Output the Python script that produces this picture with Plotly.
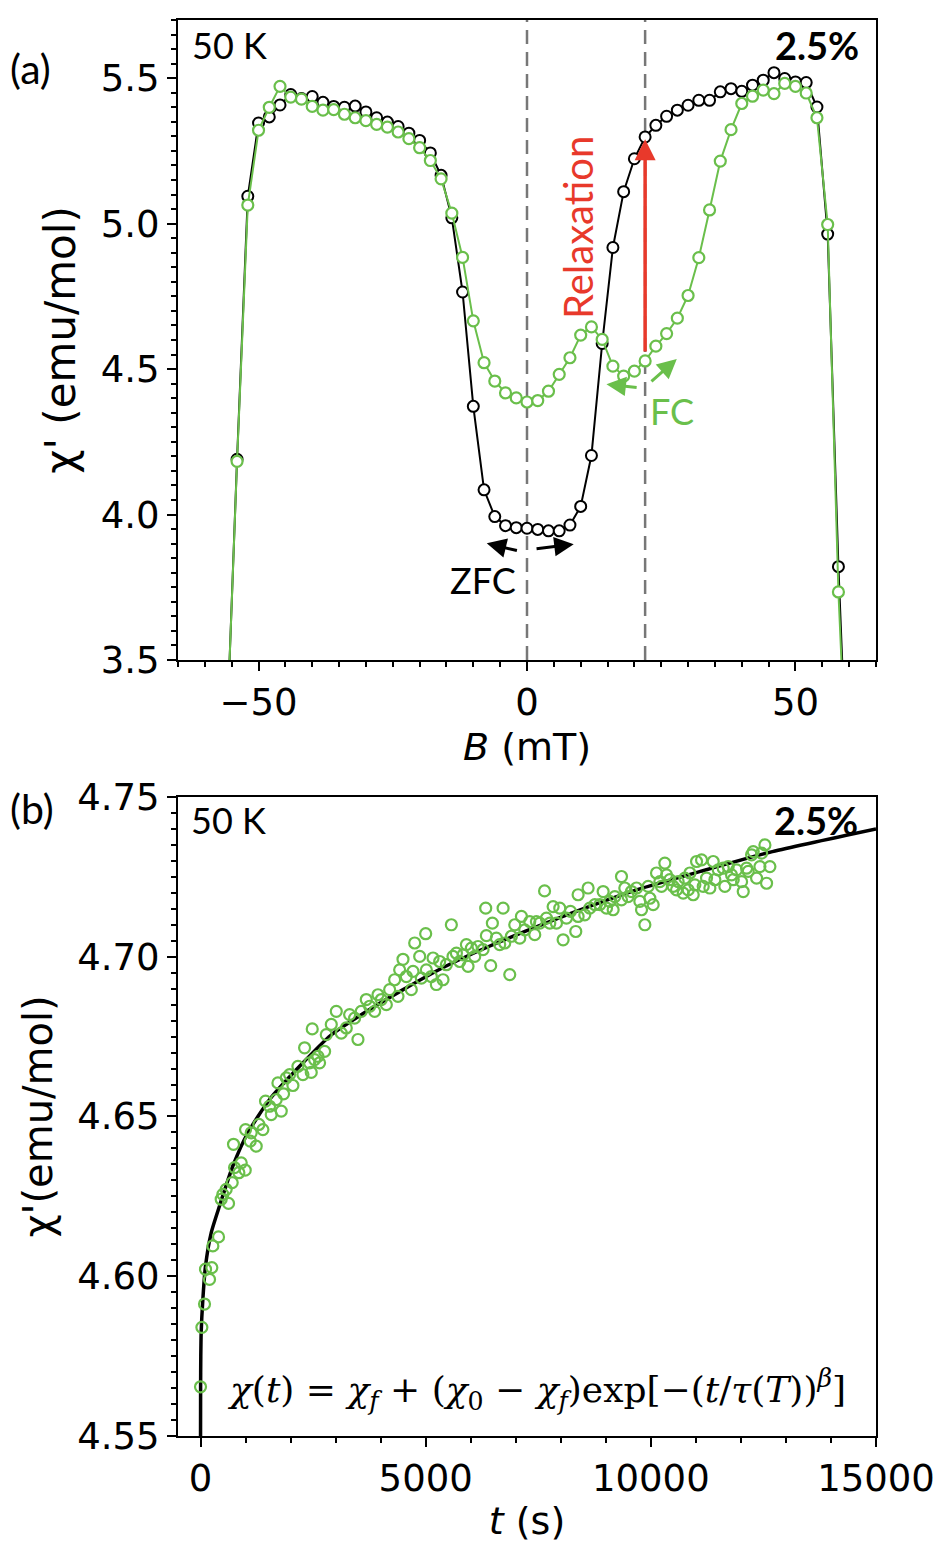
import plotly.graph_objects as go

# ---- panel (a): chi' vs B ----
B = [-56, -54, -52, -50, -48, -46, -44, -42, -40, -38, -36, -34, -32, -30, -28, -26,
     -24, -22, -20, -18, -16, -14, -12, -10, -8, -6, -4, -2, 0, 2, 4, 6, 8, 10, 12,
     14, 16, 18, 20, 22, 24, 26, 28, 30, 32, 34, 36, 38, 40, 42, 44, 46, 48, 50, 52,
     54, 56, 58, 60]
chi_zfc = [3.20, 4.19, 5.094, 5.346, 5.367, 5.408, 5.444, 5.430, 5.437, 5.417, 5.403,
           5.400, 5.404, 5.384, 5.364, 5.349, 5.334, 5.311, 5.286, 5.243, 5.166, 5.020,
           4.765, 4.372, 4.085, 3.993, 3.962, 3.955, 3.953, 3.949, 3.944, 3.944, 3.964,
           4.028, 4.203, 4.588, 4.918, 5.110, 5.223, 5.298, 5.338, 5.369, 5.390, 5.407,
           5.424, 5.424, 5.453, 5.464, 5.455, 5.476, 5.493, 5.519, 5.499, 5.487, 5.485,
           5.401, 4.964, 3.821, 2.90]
chi_fc = [3.20, 4.183, 5.064, 5.321, 5.400, 5.472, 5.435, 5.428, 5.403, 5.390, 5.392,
          5.376, 5.364, 5.354, 5.341, 5.332, 5.315, 5.292, 5.261, 5.217, 5.154, 5.036,
          4.884, 4.666, 4.522, 4.459, 4.418, 4.401, 4.387, 4.392, 4.424, 4.482, 4.539,
          4.617, 4.645, 4.602, 4.510, 4.476, 4.493, 4.528, 4.579, 4.622, 4.675, 4.753,
          4.883, 5.047, 5.215, 5.323, 5.413, 5.438, 5.459, 5.447, 5.482, 5.472, 5.449,
          5.364, 4.997, 3.734, 2.90]
B_lines = [0, 22]

# ---- panel (b): relaxation chi'(t) ----
t_s = [0, 30, 89, 111, 200, 251, 274, 400, 459, 496, 570, 622, 704, 733, 756, 852, 904,
       993, 1000, 1104, 1126, 1237, 1296, 1385, 1444, 1533, 1570, 1681, 1719, 1793, 1844,
       1904, 1978, 2052, 2163, 2274, 2311, 2422, 2459, 2481, 2533, 2607, 2644, 2756, 2793,
       2904, 3015, 3126, 3237, 3311, 3422, 3496, 3570, 3681, 3756, 3867, 3941, 4015, 4126,
       4200, 4311, 4385, 4422, 4496, 4570, 4681, 4719, 4756, 4867, 4904, 5000, 5015, 5126,
       5163, 5237, 5311, 5385, 5459, 5570, 5607, 5682, 5756, 5830, 5904, 5941, 6015, 6089,
       6163, 6274, 6333, 6348, 6444, 6481, 6570, 6644, 6719, 6756, 6867, 6904, 6978, 7089,
       7126, 7200, 7311, 7422, 7459, 7533, 7640, 7682, 7756, 7830, 7904, 7978, 8052, 8126,
       8215, 8333, 8385, 8385, 8533, 8607, 8644, 8756, 8867, 8941, 9015, 9089, 9163, 9200,
       9348, 9348, 9422, 9496, 9570, 9682, 9756, 9793, 9867, 9941, 9978, 10052, 10126,
       10200, 10237, 10311, 10348, 10422, 10496, 10570, 10607, 10719, 10756, 10830, 10867,
       10941, 10978, 11015, 11126, 11163, 11237, 11311, 11385, 11422, 11496, 11607, 11644,
       11718, 11793, 11830, 11904, 12015, 12052, 12126, 12163, 12237, 12274, 12348, 12422,
       12459, 12533, 12570, 12644]
chi_t = [4.5654, 4.5840, 4.5913, 4.6022, 4.5990, 4.6027, 4.6095, 4.6123, 4.6241, 4.6256,
         4.6272, 4.6228, 4.6293, 4.6413, 4.6340, 4.6324, 4.6355, 4.6332, 4.6459, 4.6423,
         4.6449, 4.6407, 4.6475, 4.6459, 4.6548, 4.6532, 4.6506, 4.6553, 4.6605, 4.6517,
         4.6571, 4.6621, 4.6631, 4.6597, 4.6657, 4.6631, 4.6715, 4.6668, 4.6638, 4.6774,
         4.6678, 4.6688, 4.6668, 4.6704, 4.6756, 4.6788, 4.6829, 4.6761, 4.6777, 4.6819,
         4.6808, 4.6741, 4.6829, 4.6866, 4.6845, 4.6829, 4.6881, 4.6866, 4.6850, 4.6897,
         4.6928, 4.6876, 4.6959, 4.6992, 4.6938, 4.6897, 4.6954, 4.7043, 4.7001, 4.6933,
         4.7072, 4.6959, 4.6938, 4.6996, 4.6913, 4.6985, 4.6928, 4.6975, 4.7100, 4.7001,
         4.7011, 4.6985, 4.7006, 4.7038, 4.6970, 4.7027, 4.7001, 4.7032, 4.7022, 4.7152,
         4.7066, 4.6972, 4.7105, 4.7058, 4.7038, 4.7152, 4.7043, 4.6944, 4.7064, 4.7100,
         4.7058, 4.7126, 4.7084, 4.7110, 4.7069, 4.7110, 4.7105, 4.7206, 4.7121, 4.7105,
         4.7157, 4.7105, 4.7152, 4.7053, 4.7121, 4.7142, 4.7079, 4.7126, 4.7194, 4.7131,
         4.7215, 4.7152, 4.7163, 4.7163, 4.7204, 4.7152, 4.7173, 4.7147, 4.7188, 4.7251,
         4.7178, 4.7215, 4.7188, 4.7204, 4.7215, 4.7173, 4.7147, 4.7100, 4.7220, 4.7183,
         4.7163, 4.7262, 4.7235, 4.7220, 4.7293, 4.7256, 4.7241, 4.7220, 4.7209, 4.7235,
         4.7199, 4.7246, 4.7209, 4.7262, 4.7194, 4.7225, 4.7298, 4.7303, 4.7220, 4.7246,
         4.7215, 4.7298, 4.7241, 4.7272, 4.7277, 4.7220, 4.7282, 4.7256, 4.7241, 4.7272,
         4.7235, 4.7204, 4.7277, 4.7267, 4.7319, 4.7329, 4.7246, 4.7282, 4.7324, 4.7350,
         4.7230, 4.7282]

# fitted curve
fit_t = [0, 2, 6, 15, 52, 111, 237, 422, 718, 1052, 1533, 2200, 2900, 3700, 4500, 5400,
         6400, 7400, 8400, 9700, 11100, 12700, 15000]
fit_chi = [4.546, 4.565, 4.575, 4.5825, 4.5928, 4.6032, 4.6136, 4.6220, 4.6345, 4.6449,
           4.6553, 4.6657, 4.6755, 4.6830, 4.6897, 4.6967, 4.7032, 4.7090, 4.7145,
           4.7210, 4.7267, 4.7329, 4.7400]

GREEN = "#6abf4b"
RED = "#e8392b"
TICKFONT = dict(family="DejaVu Sans", size=37, color="black")
LABFONT = "Lato"

fig = go.Figure()

fig.add_trace(go.Scatter(
    x=B, y=chi_zfc, mode="lines+markers", xaxis="x", yaxis="y",
    line=dict(color="black", width=2),
    marker=dict(symbol="circle", size=11, color="white", line=dict(color="black", width=2)),
    showlegend=False, hoverinfo="skip"))
fig.add_trace(go.Scatter(
    x=B, y=chi_fc, mode="lines+markers", xaxis="x", yaxis="y",
    line=dict(color=GREEN, width=2),
    marker=dict(symbol="circle", size=11, color="white", line=dict(color=GREEN, width=2.2)),
    showlegend=False, hoverinfo="skip"))

fig.add_trace(go.Scatter(
    x=fit_t, y=fit_chi, mode="lines", xaxis="x2", yaxis="y2",
    line=dict(color="black", width=3.5, shape="spline", smoothing=0.6),
    showlegend=False, hoverinfo="skip"))
fig.add_trace(go.Scatter(
    x=t_s, y=chi_t, mode="markers", xaxis="x2", yaxis="y2",
    marker=dict(symbol="circle-open", size=11, color=GREEN, line=dict(color=GREEN, width=2.2)),
    showlegend=False, hoverinfo="skip"))

shapes = []
for b in B_lines:
    shapes.append(dict(type="line", xref="x", yref="y domain", x0=b, x1=b, y0=0, y1=1,
                       line=dict(color="#777777", width=2.5, dash="14px,8px"), layer="below"))

ann = []
# panel labels
ann.append(dict(text="(a)", xref="paper", yref="paper", x=-0.243, y=0.9845,
                showarrow=False, font=dict(family=LABFONT, size=41, color="black")))
ann.append(dict(text="(b)", xref="paper", yref="paper", x=-0.243, y=0.4435,
                showarrow=False, font=dict(family=LABFONT, size=41, color="black")))
# corner labels
for xr, yr, xl, xr_, yv in [("x", "y", -62.8, 62.2, 5.614), ("x2", "y2", -260, 14650, 4.7428)]:
    ann.append(dict(text="50 K", xref=xr, yref=yr, x=xl, y=yv, xanchor="left", yanchor="middle",
                    showarrow=False, font=dict(family=LABFONT, size=36, color="black")))
    ann.append(dict(text="<b>2.5%</b>", xref=xr, yref=yr, x=xr_, y=yv, xanchor="right",
                    yanchor="middle", showarrow=False,
                    font=dict(family=LABFONT, size=38, color="black")))
# relaxation arrow and label
ann.append(dict(x=22, y=5.29, ax=22, ay=4.555, xref="x", yref="y", axref="x", ayref="y",
                text="", showarrow=True, arrowhead=2, arrowsize=1.2, arrowwidth=3.5,
                arrowcolor=RED, standoff=0))
ann.append(dict(text="Relaxation", xref="x", yref="y", x=9.5, y=4.985, textangle=-90,
                showarrow=False, font=dict(family=LABFONT, size=40, color=RED)))
# FC arrows
ann.append(dict(x=14.8, y=4.448, ax=20.7, ay=4.436, xref="x", yref="y", axref="x", ayref="y",
                text="", showarrow=True, arrowhead=2, arrowsize=1.3, arrowwidth=3,
                arrowcolor=GREEN, standoff=0))
ann.append(dict(x=27.9, y=4.535, ax=22.9, ay=4.453, xref="x", yref="y", axref="x", ayref="y",
                text="", showarrow=True, arrowhead=2, arrowsize=1.3, arrowwidth=3,
                arrowcolor=GREEN, standoff=0))
ann.append(dict(text="FC", xref="x", yref="y", x=27.0, y=4.355, showarrow=False,
                font=dict(family=LABFONT, size=36, color=GREEN)))
# ZFC arrows
ann.append(dict(x=-7.5, y=3.901, ax=-1.6, ay=3.875, xref="x", yref="y", axref="x", ayref="y",
                text="", showarrow=True, arrowhead=2, arrowsize=1.3, arrowwidth=3,
                arrowcolor="black", standoff=0))
ann.append(dict(x=8.7, y=3.898, ax=1.5, ay=3.882, xref="x", yref="y", axref="x", ayref="y",
                text="", showarrow=True, arrowhead=2, arrowsize=1.3, arrowwidth=3,
                arrowcolor="black", standoff=0))
ann.append(dict(text="ZFC", xref="x", yref="y", x=-8.2, y=3.776, showarrow=False,
                font=dict(family=LABFONT, size=36, color="black")))
# formula
ann.append(dict(text="<i>χ</i>(<i>t</i>) = <i>χ<sub>f</sub></i> + (<i>χ</i><sub>0</sub> − "
                     "<i>χ<sub>f</sub></i>)exp[−(<i>t</i>/<i>τ</i>(<i>T</i>))<sup><i>β</i></sup>]",
                xref="x2", yref="y2", x=7450, y=4.5645, showarrow=False,
                font=dict(family="DejaVu Serif", size=36, color="black")))

axis_common = dict(showline=True, linecolor="black", linewidth=2, mirror=True,
                   ticks="outside", ticklen=9, tickwidth=2, tickcolor="black",
                   tickfont=TICKFONT, showgrid=False, zeroline=False, automargin=False)
minor_common = dict(ticks="outside", ticklen=5, tickwidth=1.5, tickcolor="black", tick0=0)

fig.update_layout(
    width=948, height=1550,
    margin=dict(l=170, r=80, t=12, b=122),
    paper_bgcolor="white", plot_bgcolor="white",
    xaxis=dict(axis_common, domain=[0, 1], anchor="y", range=[-65, 65],
               tickvals=[-50, 0, 50],
               minor=dict(minor_common, dtick=5),
               title=dict(text="<i>B</i> (mT)", standoff=10,
                          font=dict(family="DejaVu Sans", size=38, color="black"))),
    yaxis=dict(axis_common, domain=[0.548, 1], anchor="x", range=[3.5, 5.7],
               tickvals=[3.5, 4.0, 4.5, 5.0, 5.5], ticktext=["3.5", "4.0", "4.5", "5.0", "5.5"],
               minor=dict(minor_common, dtick=0.05),
               title=dict(text="χ' (emu/mol)", standoff=12,
                          font=dict(family="DejaVu Sans", size=42, color="black"))),
    xaxis2=dict(axis_common, domain=[0, 1], anchor="y2", range=[-500, 15000],
                tickvals=[0, 5000, 10000, 15000],
                ticktext=["0", "5000", "10000", "15000"],
                minor=dict(minor_common, dtick=1000),
                title=dict(text="<i>t</i> (s)", standoff=8,
                           font=dict(family="DejaVu Sans", size=38, color="black"))),
    yaxis2=dict(axis_common, domain=[0, 0.4513], anchor="x2", range=[4.55, 4.75],
                tickvals=[4.55, 4.60, 4.65, 4.70, 4.75],
                ticktext=["4.55", "4.60", "4.65", "4.70", "4.75"],
                minor=dict(minor_common, dtick=0.005),
                title=dict(text="χ'(emu/mol)", standoff=12,
                           font=dict(family="DejaVu Sans", size=40, color="black"))),
    shapes=shapes,
    annotations=ann,
)

fig.write_html("out.html")
